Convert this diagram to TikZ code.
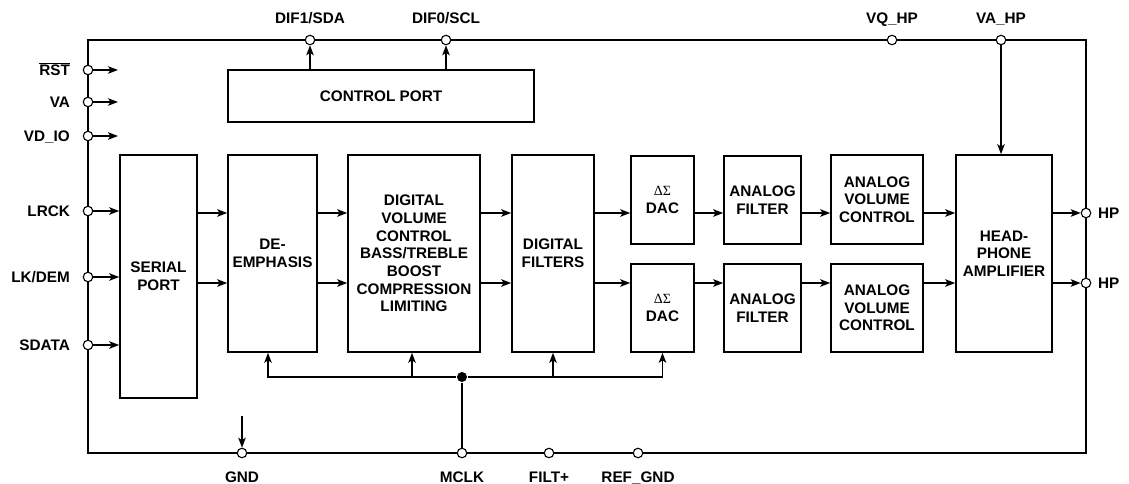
\documentclass[tikz,border=0pt]{standalone}
\usepackage{fontspec}
\setmainfont{Liberation Sans}
\newfontfamily\greekfont{Liberation Serif}
\usetikzlibrary{arrows.meta,positioning}

\begin{document}
\begin{tikzpicture}[x=1pt, y=-1pt,
	line width = 1.6pt,
	every node/.style={font=\bfseries\fontsize{15.3}{17.7}\selectfont},
	block/.style={draw, rectangle, align=center, inner sep=0pt},
	port/.style={draw, circle, fill=white, line width=1.1pt, minimum size=9.5pt, inner sep=0pt},
	junction/.style={fill, circle, minimum size=10pt, inner sep=0pt},
	pinlabel/.style={inner sep=0pt, text height=10.9pt, text depth=0pt},
	sig/.style={-{Stealth[length=10pt, width=7.5pt, inset=2.5pt]}}]

	\useasboundingbox (0,0) rectangle (1129,484);
	\draw[line width=2.8pt] (88,40) rectangle (1086,453);

	\coordinate (r1) at (0,213);
	\coordinate (r2) at (0,283);

	\node[block, minimum width=306pt, minimum height=52pt] (ctrl) at (381,96) {CONTROL PORT};
	\node[block, minimum width=77pt, minimum height=243pt] (serial) at (158.5,276.5) {SERIAL\\PORT};
	\node[block, minimum width=89pt, minimum height=197pt] (deemph) at (272.5,253.5) {DE-\\EMPHASIS};
	\node[block, minimum width=132pt, minimum height=197pt] (digvol) at (414,253.5) {DIGITAL\\VOLUME\\CONTROL\\BASS/TREBLE\\BOOST\\COMPRESSION\\LIMITING};
	\node[block, minimum width=82pt, minimum height=197pt] (digfilt) at (553,253.5) {DIGITAL\\FILTERS};
	\node[block, minimum width=63pt, minimum height=88pt] (dacA) at (662.5,200) {{\greekfont\mdseries\fontsize{14}{15}\selectfont ΔΣ}\\DAC};
	\node[block, minimum width=63pt, minimum height=88pt] (dacB) at (662.5,308) {{\greekfont\mdseries\fontsize{14}{15}\selectfont ΔΣ}\\DAC};
	\node[block, minimum width=77pt, minimum height=88pt] (afA) at (762.5,200) {ANALOG\\FILTER};
	\node[block, minimum width=77pt, minimum height=88pt] (afB) at (762.5,308) {ANALOG\\FILTER};
	\node[block, minimum width=92pt, minimum height=89pt] (avcA) at (877,199.5) {ANALOG\\VOLUME\\CONTROL};
	\node[block, minimum width=92pt, minimum height=88pt] (avcB) at (877,308) {ANALOG\\VOLUME\\CONTROL};
	\node[block, minimum width=96pt, minimum height=197pt] (hpamp) at (1004,253.5) {HEAD-\\PHONE\\AMPLIFIER};

	\node[port] (rst) at (88,70) {};
	\node[port] (va) at (88,102) {};
	\node[port] (vdio) at (88,136) {};
	\node[port] (lrck) at (88,211) {};
	\node[port] (lkdem) at (88,277) {};
	\node[port] (sdata) at (88,345) {};
	\node[port] (dif1) at (310,40) {};
	\node[port] (dif0) at (446,40) {};
	\node[port] (vqhp) at (892,40) {};
	\node[port] (vahp) at (1001,40) {};
	\node[port] (hpA) at (1086,213) {};
	\node[port] (hpB) at (1086,283) {};
	\node[port] (gnd) at (242,453) {};
	\node[port] (mclk) at (462,453) {};
	\node[port] (filt) at (549,453) {};
	\node[port] (refgnd) at (638,453) {};

	\node[pinlabel, left=12pt of rst] {$\overline{\hbox{RST}}$};
	\node[pinlabel, left=12pt of va] {VA};
	\node[pinlabel, left=12pt of vdio] {VD\_IO};
	\node[pinlabel, left=12pt of lrck] {LRCK};
	\node[pinlabel, left=12pt of lkdem] {LK/DEM};
	\node[pinlabel, left=12pt of sdata] {SDATA};
	\node[pinlabel, above=10pt of dif1] {DIF1/SDA};
	\node[pinlabel, above=10pt of dif0] {DIF0/SCL};
	\node[pinlabel, above=10pt of vqhp] {VQ\_HP};
	\node[pinlabel, above=10pt of vahp] {VA\_HP};
	\node[pinlabel, right=6pt of hpA] {HP};
	\node[pinlabel, right=6pt of hpB] {HP};
	\node[pinlabel, below=12pt of gnd] {GND};
	\node[pinlabel, below=12pt of mclk] {MCLK};
	\node[pinlabel, below=12pt of filt] {FILT+};
	\node[pinlabel, below=12pt of refgnd] {REF\_GND};

	\coordinate (rstin) at (118,70);
	\coordinate (vain) at (118,102);
	\coordinate (vdioin) at (118,136);
	\coordinate (gndin) at (242,416);
	\node[junction] (clk) at (462,377) {};

	\draw[sig] (rst) -- (rstin);
	\draw[sig] (va) -- (vain);
	\draw[sig] (vdio) -- (vdioin);
	\draw[sig] (lrck) -- (serial.west |- lrck);
	\draw[sig] (lkdem) -- (serial.west |- lkdem);
	\draw[sig] (sdata) -- (serial.west |- sdata);

	\foreach \a/\b in {serial/deemph, deemph/digvol, digvol/digfilt}{
		\draw[sig] (\a.east |- r1) -- (\b.west |- r1);
		\draw[sig] (\a.east |- r2) -- (\b.west |- r2);
	}
	\draw[sig] (digfilt.east |- r1) -- (dacA.west |- r1);
	\draw[sig] (digfilt.east |- r2) -- (dacB.west |- r2);
	\foreach \a/\b in {dacA/afA, afA/avcA, avcA/hpamp}{
		\draw[sig] (\a.east |- r1) -- (\b.west |- r1);
	}
	\foreach \a/\b in {dacB/afB, afB/avcB, avcB/hpamp}{
		\draw[sig] (\a.east |- r2) -- (\b.west |- r2);
	}
	\draw[sig] (hpamp.east |- hpA) -- (hpA);
	\draw[sig] (hpamp.east |- hpB) -- (hpB);

	\draw[sig] (dif1 |- ctrl.north) -- (dif1);
	\draw[sig] (dif0 |- ctrl.north) -- (dif0);
	\draw[sig] (vahp) -- (vahp |- hpamp.north);

	\draw (mclk) -- (clk);
	\draw[sig] (clk) -| ([xshift=-4.5pt]deemph.south);
	\draw[sig] (clk) -| ([xshift=-2pt]digvol.south);
	\draw[sig] (clk) -| (digfilt.south);
	\draw[sig] (clk) -| (dacB.south);
	\draw[sig] (gndin) -- (gnd);
\end{tikzpicture}
\end{document}
